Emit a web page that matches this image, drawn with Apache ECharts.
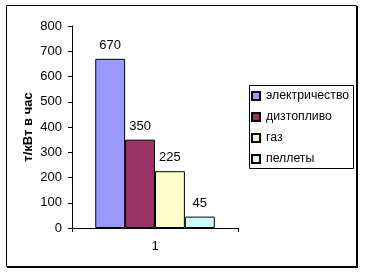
<!DOCTYPE html>
<html><head><meta charset="utf-8">
<script src="https://cdn.jsdelivr.net/npm/echarts@6/dist/echarts.min.js"></script>
<style>html,body{margin:0;padding:0;background:#fff}#c{width:365px;height:274px}</style>
</head><body><div id="c"></div>
<script>
var categories = ['1'];
var seriesNames = ['электричество', 'дизтопливо', 'газ', 'пеллеты'];
var seriesValues = [[670], [350], [225], [45]];
var seriesColors = ['#9999FF', '#993366', '#FFFFCC', '#CCFFFF'];
var yAxisName = 'т/кВт в час';
var yMin = 0, yMax = 800, yStep = 100;

var font = 'Liberation Sans, Arial, sans-serif';
var chart = echarts.init(document.getElementById('c'), null, {renderer: 'canvas'});
var series = seriesNames.map(function (n, i) {
  return {
    name: n, type: 'bar', data: seriesValues[i],
    barGap: '0%', barCategoryGap: '28%',
    itemStyle: {color: seriesColors[i], borderColor: '#000', borderWidth: 1},
    label: {show: true, position: 'top', distance: 7, color: '#000', fontFamily: font, fontSize: 13},
    emphasis: {disabled: true}, animation: false
  };
});
chart.setOption({
  animation: false,
  grid: {left: 72, right: 127, top: 26, bottom: 46},
  graphic: [
    {type: 'rect', shape: {x: 6.5, y: 5.5, width: 350, height: 261}, style: {fill: 'none', stroke: '#000', lineWidth: 1}, z: -10},
    {type: 'line', shape: {x1: 357.5, y1: 6, x2: 357.5, y2: 268}, style: {stroke: '#000', lineWidth: 1}},
    {type: 'line', shape: {x1: 7, y1: 267.5, x2: 358, y2: 267.5}, style: {stroke: '#000', lineWidth: 1}},
    {type: 'rect', shape: {x: 249.5, y: 85.5, width: 104, height: 83}, style: {fill: '#fff', stroke: '#000', lineWidth: 1}, z: -5}
  ],
  legend: {
    orient: 'vertical', left: 251, top: 89, itemWidth: 8, itemHeight: 8, itemGap: 7,
    icon: 'rect', padding: 0,
    textStyle: {color: '#000', fontFamily: font, fontSize: 12.3, lineHeight: 14, padding: [0, 0, 0, 1]},
    data: seriesNames
  },
  xAxis: {
    type: 'category', data: categories,
    axisLine: {lineStyle: {color: '#000', width: 1}},
    axisTick: {show: true, length: 4, lineStyle: {color: '#000'}},
    axisLabel: {color: '#000', fontFamily: font, fontSize: 13, margin: 12}
  },
  yAxis: {
    type: 'value', min: yMin, max: yMax, interval: yStep,
    name: yAxisName, nameLocation: 'middle', nameGap: 37,
    nameTextStyle: {color: '#000', fontFamily: font, fontSize: 13, fontWeight: 'bold'},
    axisLine: {show: true, lineStyle: {color: '#000', width: 1}},
    axisTick: {show: true, length: 4, lineStyle: {color: '#000'}},
    axisLabel: {color: '#000', fontFamily: font, fontSize: 13, margin: 10},
    splitLine: {show: false}
  },
  series: series
});
</script></body></html>
